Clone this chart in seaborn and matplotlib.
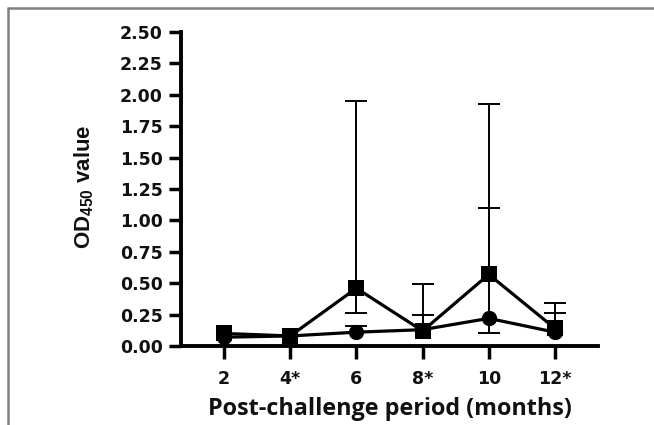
import numpy as np
import pandas as pd
import matplotlib
matplotlib.use("Agg")
import matplotlib.pyplot as plt
from matplotlib import font_manager
from matplotlib.lines import Line2D
import seaborn as sns

# ---- data ----
periods = ["2", "4*", "6", "8*", "10", "12*"]
square_mean = [0.10, 0.08, 0.46, 0.12, 0.57, 0.14]
circle_mean = [0.07, 0.08, 0.11, 0.13, 0.22, 0.11]
# error-bar end values (None = no bar)
square_upper = [None, None, 1.95, 0.49, 1.93, 0.34]
square_lower = [None, None, 0.26, None, None, None]
circle_upper = [None, None, 0.16, 0.25, 1.10, 0.26]
circle_lower = [None, None, None, None, 0.10, None]

names = {f.name for f in font_manager.fontManager.ttflist}
narrow = "Liberation Sans Narrow" if "Liberation Sans Narrow" in names else "Liberation Sans"

sns.set_theme(style="ticks")
plt.rcParams["font.family"] = ["DejaVu Sans"]
plt.rcParams["mathtext.fontset"] = "custom"
plt.rcParams["mathtext.rm"] = f"{narrow}:bold"
plt.rcParams["mathtext.bf"] = f"{narrow}:bold"

fig = plt.figure(figsize=(6.54, 4.25), dpi=100)
ax = fig.add_axes([181/654, 1-346/425, (598-181)/654, (346-32)/425])

x = np.arange(len(periods))
df = pd.DataFrame({
    "x": np.concatenate([x, x]),
    "y": square_mean + circle_mean,
    "grp": ["sq"] * len(x) + ["ci"] * len(x),
})

def draw_err(means, ends):
    idx = [i for i, v in enumerate(ends) if v is not None]
    if not idx:
        return
    xs = [x[i] for i in idx]
    y0 = [means[i] for i in idx]
    y1 = [ends[i] for i in idx]
    ax.vlines(xs, y0, y1, colors="black", linewidth=1.4, zorder=1)
    ax.plot(xs, y1, linestyle="none", marker="_", markersize=16,
            markeredgewidth=1.4, color="black", zorder=1)

draw_err(circle_mean, circle_upper)
draw_err(circle_mean, circle_lower)
draw_err(square_mean, square_upper)
draw_err(square_mean, square_lower)

sns.lineplot(data=df[df.grp == "ci"], x="x", y="y", ax=ax, color="black",
             marker="o", markersize=11, linewidth=2.3, markeredgewidth=0, zorder=3)
sns.lineplot(data=df[df.grp == "sq"], x="x", y="y", ax=ax, color="black",
             marker="s", markersize=11, linewidth=2.3, markeredgewidth=0, zorder=4)

ax.set_xlim(-0.65, 5.65)
ax.set_ylim(0, 2.5)
yt = np.arange(0, 2.51, 0.25)
ax.set_yticks(yt)
ax.set_yticklabels([f"{v:.2f}" for v in yt])
ax.set_xticks(x)
ax.set_xticklabels(periods)
for lab in ax.get_xticklabels() + ax.get_yticklabels():
    lab.set_fontweight("bold")
    lab.set_fontsize(12.5)
    lab.set_color("#111111")
ax.tick_params(axis="both", length=9, width=2.5, color="black", pad=4)
ax.tick_params(axis="x", pad=8)
for s in ["left", "bottom"]:
    ax.spines[s].set_linewidth(2.8)
    ax.spines[s].set_color("black")
sns.despine(ax=ax)
ax.set_xlabel("")
ax.set_ylabel("")

fig.text(390/654, 1-409/425, "Post-challenge period (months)", ha="center", va="center",
         fontsize=16.8, fontweight="bold", family=["Open Sans", "DejaVu Sans"], color="#111111")
fig.text(84/654, 1-187/425, r"$\mathrm{OD}_{\mathrm{450}}$ value", ha="center", va="center",
         rotation=90, fontsize=16, fontweight="bold", family=[narrow, "DejaVu Sans"], color="#111111")

# frame lines of the original picture
fig.add_artist(Line2D([8/654, 1], [1-8/425, 1-8/425], transform=fig.transFigure, color="#808080", lw=1.8))
fig.add_artist(Line2D([8/654, 8/654], [0, 1-8/425], transform=fig.transFigure, color="#808080", lw=1.8))

fig.savefig("out.png", dpi=100)
